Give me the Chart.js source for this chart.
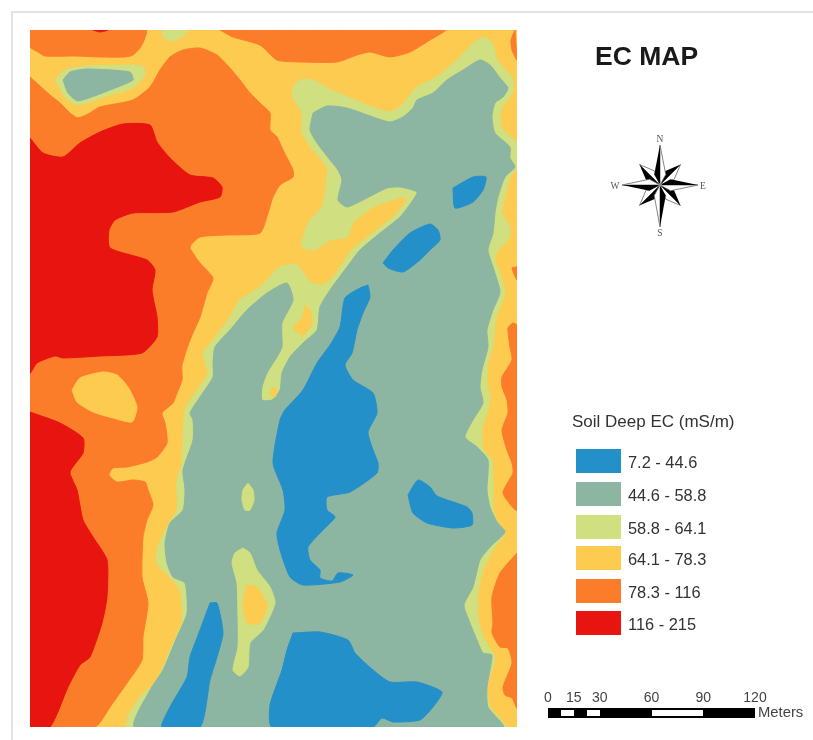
<!DOCTYPE html>
<html>
<head>
<meta charset="utf-8">
<title>EC MAP</title>
<script src="https://cdn.jsdelivr.net/npm/chart.js@4"></script>
<style>
  html, body { margin: 0; padding: 0; background: #fff; }
  #page { position: relative; width: 813px; height: 740px; overflow: hidden; font-family: "Liberation Sans", Arial, sans-serif; color: #333; filter: blur(0.45px); }
  #frameTop { position: absolute; left: 11px; top: 11px; right: 0; height: 2px; background: #e2e2e2; }
  #frameLeft { position: absolute; left: 11px; top: 11px; bottom: 0; width: 2px; background: #e2e2e2; }
  canvas { position: absolute; left: 0; top: 0; }
  .txt { position: absolute; white-space: nowrap; line-height: 1; }
  #title { left: 595px; top: 43px; font-size: 26.5px; font-weight: bold; color: #1a1a1a; }
  #legendTitle { left: 572px; top: 413px; font-size: 17px; }
  .swatch { position: absolute; left: 576px; width: 45px; height: 24px; }
  .legLabel { left: 628px; font-size: 16.4px; }
  .tick { font-size: 14px; transform: translateX(-50%); top: 690px; color: #444; }
  #meters { left: 758px; top: 705px; font-size: 14.8px; color: #444; }
  .bar { position: absolute; }
  #compass { position: absolute; left: 600px; top: 130px; }
</style>
</head>
<body>
<div id="page">
  <div id="frameTop"></div>
  <div id="frameLeft"></div>
  <canvas id="map" width="813" height="740"></canvas>
  <div class="txt" id="title">EC MAP</div>
  <svg id="compass" width="120" height="110" viewBox="600 130 120 110"></svg>
  <div class="txt" id="legendTitle">Soil Deep EC (mS/m)</div>
  <div id="legend"></div>
  <div id="scalebar"></div>
  <div class="txt" id="meters">Meters</div>
</div>
<script>
// class colours and legend
const classLabels = ["7.2 - 44.6", "44.6 - 58.8", "58.8 - 64.1", "64.1 - 78.3", "78.3 - 116", "116 - 215"];
const classColors = ["#2490c9", "#8cb6a2", "#d0e081", "#fdcb50", "#fb7d2a", "#e8140f"];
const scaleTicks = [0, 15, 30, 60, 90, 120];
const [BLUE, GREEN, LIME, YELLOW, ORANGE, RED] = classColors;

// zone outlines, [x, y] in map units
const mapBase = [[30,30],[517,30],[517,727],[30,727]];
const orangeTop = [[30,30],[146,30],[145,38],[140,48],[133,55],[125,57],[100,57],[75,56],[45,56],[38,52],[30,47]];
const orangeWest = [[30,77],[40,86],[50,95],[60,103],[70,113],[78,118],[88,114],[100,107],[133,100],[150,87],[160,70],[170,57],[183,50],[200,48],[217,55],[230,68],[240,80],[250,93],[260,103],[270,113],[270,130],[277,137],[283,150],[293,170],[293,177],[280,185],[273,197],[268,213],[260,233],[227,235],[200,237],[190,247],[200,263],[213,278],[207,293],[200,317],[190,340],[182,365],[182,380],[177,393],[173,403],[162,413],[165,423],[167,443],[157,457],[147,462],[127,467],[113,468],[109,475],[117,482],[133,480],[145,482],[148,490],[153,505],[147,520],[143,537],[142,577],[148,603],[143,637],[142,660],[127,683],[110,707],[95,727],[30,727]];
const orangeNorth = [[220,30],[233,37],[260,45],[277,60],[300,62],[337,62],[357,55],[370,52],[390,57],[410,52],[430,40],[445,30]];
const orangeCorner = [[515,30],[511,40],[512,50],[517,60]];
const orangeEastTip = [[517,267],[512,268],[517,280]];
const orangeEast = [[517,325],[513,323],[508,328],[510,347],[512,360],[502,377],[502,387],[507,400],[508,413],[502,430],[507,450],[512,463],[513,473],[503,493],[517,510]];
const orangeSouthEast = [[517,553],[500,573],[492,597],[493,623],[492,633],[500,647],[508,648],[512,663],[503,687],[505,695],[512,698],[517,708]];
const yellowIsland = [[72,390],[80,378],[103,372],[117,375],[128,387],[137,407],[132,422],[113,418],[93,412],[77,402]];
const redNorth = [[30,138],[43,153],[63,157],[80,143],[100,132],[123,124],[150,125],[157,142],[170,158],[190,175],[213,178],[222,187],[220,197],[200,202],[173,212],[133,213],[115,220],[109,230],[110,248],[147,260],[155,270],[152,290],[157,317],[157,337],[142,353],[100,356],[63,358],[55,356],[37,363],[30,373]];
const redSouth = [[30,412],[60,423],[83,438],[83,453],[70,472],[77,490],[83,520],[93,537],[107,560],[107,597],[102,623],[90,657],[80,665],[68,687],[50,727],[30,727]];
const redSpot = [[93,30],[108,30],[100,32]];
const limeMain = [[293,87],[300,80],[313,80],[327,88],[360,102],[387,112],[400,107],[417,87],[437,77],[460,57],[477,40],[487,38],[493,45],[497,60],[512,78],[513,90],[508,100],[502,107],[500,117],[503,130],[517,143],[517,167],[510,177],[505,197],[502,213],[510,227],[508,240],[498,250],[495,260],[500,273],[505,293],[498,312],[495,323],[493,345],[488,363],[487,383],[490,397],[487,413],[482,427],[483,450],[492,460],[493,490],[493,510],[498,523],[505,532],[493,550],[483,570],[478,593],[478,617],[483,637],[493,653],[495,660],[487,687],[490,707],[505,727],[127,727],[128,717],[140,697],[157,680],[170,650],[182,623],[182,607],[180,590],[170,577],[158,565],[157,550],[167,527],[177,510],[177,490],[177,480],[182,463],[185,410],[197,390],[208,373],[203,353],[213,340],[230,317],[240,300],[260,287],[280,267],[297,265],[310,282],[323,285],[333,277],[340,267],[352,250],[360,243],[373,233],[393,217],[407,200],[403,197],[373,207],[353,223],[347,237],[330,240],[320,247],[312,250],[302,247],[303,237],[310,220],[322,207],[325,193],[327,177],[327,167],[313,150],[302,133],[302,113],[293,97]];
const greenMain = [[313,113],[327,106],[347,108],[373,117],[390,122],[403,117],[413,108],[417,100],[433,93],[447,80],[463,70],[480,60],[490,65],[500,78],[508,88],[503,97],[495,103],[492,117],[495,133],[510,147],[510,158],[515,167],[505,177],[498,197],[495,213],[493,233],[488,250],[493,267],[500,292],[493,310],[487,330],[488,347],[482,370],[480,387],[483,403],[473,420],[465,437],[477,447],[488,460],[487,490],[490,507],[497,522],[505,532],[490,547],[480,560],[473,587],[464,605],[470,623],[477,640],[483,653],[492,655],[487,687],[488,707],[503,727],[135,727],[150,690],[163,670],[177,637],[187,613],[185,583],[173,577],[167,563],[165,543],[170,523],[183,510],[185,490],[183,470],[193,440],[193,420],[190,413],[200,397],[213,377],[213,363],[215,347],[230,330],[247,310],[267,293],[287,283],[293,300],[282,323],[282,347],[277,357],[267,373],[262,387],[262,400],[272,400],[280,390],[282,373],[290,357],[303,343],[317,330],[320,307],[330,290],[347,267],[360,250],[380,233],[400,217],[413,200],[417,192],[400,187],[387,188],[363,200],[347,207],[338,200],[342,180],[338,170],[330,160],[317,143],[310,130]];
const yellowArm = [[305,305],[310,310],[312,323],[303,335],[293,328],[302,318]];
const yellowSpot = [[273,387],[277,390],[275,397],[270,394]];
const limeRing = [[55,80],[65,70],[87,66],[133,65],[143,67],[145,75],[133,88],[110,95],[78,105],[65,97]];
const greenPond = [[63,80],[70,72],[87,69],[130,72],[133,80],[110,90],[78,101],[68,93]];
const limeTop = [[162,30],[187,30],[183,36],[172,41],[164,38]];
const limeDot = [[248,483],[253,490],[254,500],[250,510],[245,510],[242,500],[243,490]];
const limeSouth = [[243,548],[250,553],[257,570],[270,587],[275,603],[263,630],[250,643],[248,667],[240,676],[233,670],[238,647],[238,617],[237,583],[232,563],[235,553]];
const yellowSouth = [[247,585],[257,587],[267,605],[260,623],[247,623],[243,603]];
const blueCentre = [[368,285],[370,297],[363,313],[357,330],[352,353],[345,365],[353,380],[373,393],[377,413],[368,432],[373,450],[378,463],[377,473],[350,492],[327,497],[327,510],[335,517],[323,530],[308,547],[310,560],[320,570],[320,578],[332,581],[338,573],[353,575],[340,582],[303,585],[290,577],[280,550],[277,533],[285,510],[283,490],[273,463],[280,420],[285,410],[303,390],[317,363],[330,345],[340,327],[345,298],[360,288]];
const blueNorthEast = [[453,188],[473,177],[486,177],[483,190],[473,202],[455,208]];
const blueNorth = [[383,263],[393,250],[410,233],[430,224],[438,230],[440,240],[430,250],[420,260],[403,272],[388,268]];
const blueEast = [[408,495],[418,480],[430,487],[437,496],[467,507],[472,513],[472,525],[453,528],[427,523],[413,513]];
const blueSouth = [[293,633],[320,632],[348,640],[355,653],[373,670],[390,682],[417,682],[442,692],[433,707],[420,720],[393,722],[382,718],[373,727],[272,727],[270,705],[282,670],[287,650]];
const blueStrip = [[210,603],[217,603],[223,633],[217,657],[210,680],[200,727],[162,727],[170,707],[187,677],[190,657],[200,630]];

// paint order, bottom first
const layers = [
  [mapBase, YELLOW],
  [orangeTop, ORANGE], [orangeWest, ORANGE], [orangeNorth, ORANGE], [orangeCorner, ORANGE],
  [orangeEastTip, ORANGE], [orangeEast, ORANGE], [orangeSouthEast, ORANGE],
  [yellowIsland, YELLOW],
  [redNorth, RED], [redSouth, RED], [redSpot, RED],
  [limeMain, LIME], [greenMain, GREEN],
  [yellowArm, YELLOW], [yellowSpot, YELLOW],
  [limeRing, LIME], [greenPond, GREEN], [limeTop, LIME],
  [limeDot, LIME], [limeSouth, LIME], [yellowSouth, YELLOW],
  [blueCentre, BLUE], [blueNorthEast, BLUE], [blueNorth, BLUE], [blueEast, BLUE], [blueSouth, BLUE], [blueStrip, BLUE]
];

new Chart(document.getElementById("map").getContext("2d"), {
  type: "scatter",
  data: {
    datasets: layers.map(([outline, color], i) => ({
      data: outline.concat([outline[0]]).map(p => ({ x: p[0], y: p[1] })),
      showLine: true,
      fill: "shape",
      backgroundColor: color,
      borderColor: color,
      borderWidth: 1,
      pointRadius: 0,
      tension: outline === mapBase ? 0 : 0.2,
      order: layers.length - i
    }))
  },
  options: {
    responsive: false,
    animation: false,
    layout: { padding: { left: 30, top: 30, right: 296, bottom: 13 } },
    plugins: { legend: { display: false }, tooltip: { enabled: false } },
    scales: {
      x: { type: "linear", display: false, min: 30, max: 517 },
      y: { type: "linear", display: false, min: 30, max: 727, reverse: true }
    }
  }
});

// legend
const legendTops = [449, 482, 515, 546, 579, 611];
const legend = document.getElementById("legend");
classLabels.forEach((label, i) => {
  legend.innerHTML += `<div class="swatch" style="top:${legendTops[i]}px;background:${classColors[i]}"></div>` +
    `<div class="txt legLabel" style="top:${legendTops[i] + 5}px">${label}</div>`;
});

// scale bar
const barLeft = 548, barRight = 755;
const pxPerMeter = (barRight - barLeft) / scaleTicks[scaleTicks.length - 1];
const bar = document.getElementById("scalebar");
bar.innerHTML = `<div class="bar" style="left:${barLeft}px;top:708px;width:${barRight - barLeft}px;height:10px;background:#000"></div>`;
[[7.5, 15], [22.5, 30], [60, 90]].forEach(([from, to]) => {
  bar.innerHTML += `<div class="bar" style="left:${barLeft + from * pxPerMeter}px;top:710px;width:${(to - from) * pxPerMeter}px;height:6px;background:#fff"></div>`;
});
scaleTicks.forEach(t => {
  bar.innerHTML += `<div class="txt tick" style="left:${barLeft + t * pxPerMeter}px">${t}</div>`;
});

// north arrow
const svgNS = "http://www.w3.org/2000/svg";
const compass = document.getElementById("compass");
const cx = 660, cy = 185;
function addEl(name, attrs, text) {
  const el = document.createElementNS(svgNS, name);
  Object.keys(attrs).forEach(k => el.setAttribute(k, attrs[k]));
  if (text) el.textContent = text;
  compass.appendChild(el);
}
// short diagonal points first so the long ones sit on top
[[45, 29], [135, 29], [225, 29], [315, 29], [0, 40], [90, 38], [180, 42], [270, 38]].forEach(([deg, len]) => {
  const a = deg * Math.PI / 180;
  const side = deg % 90 ? 15 : 12, spread = deg % 90 ? 0.42 : 0.5;
  const tx = cx + Math.sin(a) * len, ty = cy - Math.cos(a) * len;
  const lx = cx + Math.sin(a - spread) * side, ly = cy - Math.cos(a - spread) * side;
  const rx = cx + Math.sin(a + spread) * side, ry = cy - Math.cos(a + spread) * side;
  addEl("polygon", { points: `${cx},${cy} ${tx},${ty} ${rx},${ry}`, fill: "#fff", stroke: "#666", "stroke-width": 0.8 });
  addEl("polygon", { points: `${cx},${cy} ${tx},${ty} ${lx},${ly}`, fill: "#000" });
});
addEl("circle", { cx: cx, cy: cy, r: 2, fill: "#888" });
[["N", 660, 142], ["S", 660, 236], ["E", 703, 189], ["W", 615, 189]].forEach(([t, x, y]) => {
  addEl("text", { x: x, y: y, "text-anchor": "middle", "font-family": "Liberation Serif", "font-size": 9.5, fill: "#555" }, t);
});
</script>
</body>
</html>
